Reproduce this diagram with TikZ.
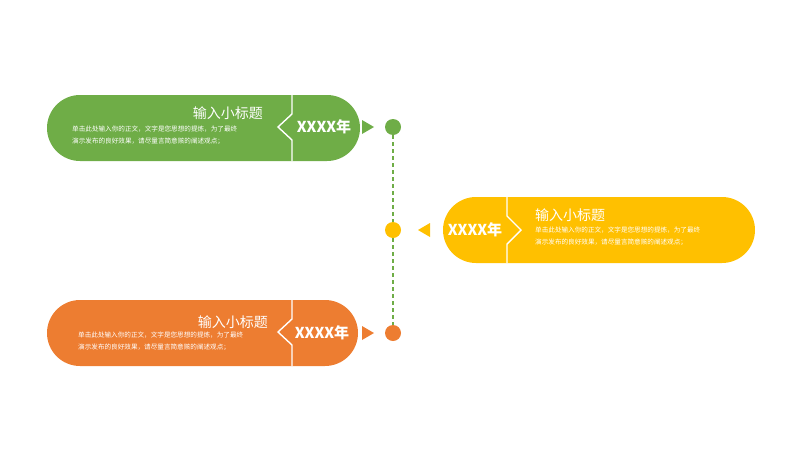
\documentclass[tikz,border=0pt]{standalone}
\usepackage{fontspec}
\newfontfamily\cjk{Noto Sans CJK SC}
\definecolor{cg}{HTML}{6FAD47}
\definecolor{cy}{HTML}{FFC000}
\definecolor{co}{HTML}{ED7D31}
\tikzset{
 pill/.style={rounded corners=33pt},
 divider/.style={draw=white,line width=1.4pt},
 ttl/.style={text=white,font=\cjk\fontsize{14}{16}\selectfont,inner sep=0pt},
 bdy/.style={text=white,font=\cjk\fontsize{6.6}{12}\selectfont,inner sep=0pt,align=left},
 yr/.style={text=white,font=\cjk\bfseries\fontsize{15}{17}\selectfont,inner sep=0pt},
 dotc/.style={circle,inner sep=0pt,minimum size=16pt},
 tri/.style={inner sep=0pt}
}
\begin{document}
\begin{tikzpicture}[x=1pt,y=-1pt]
\useasboundingbox (0,0) rectangle (800,450);
% timeline
\coordinate (top) at (393,127);
\node[dotc,fill=cg] (d1) at (393,127) {};
\node[dotc,fill=cy] (d2) at (393,230) {};
\node[dotc,fill=co] (d3) at (393,333) {};
\draw[cg,dashed,line width=1.4pt,dash pattern=on 4pt off 3pt] (d1) -- (d2);
\draw[cg,dashed,line width=1.4pt,dash pattern=on 4pt off 3pt] (d2) -- (d3);
% green
\fill[cg,pill] (47,95) rectangle (360,161);
\draw[divider] (292,95)--(292,114)--(278,127)--(292,140)--(292,161);
\node[ttl,anchor=east] (t1) at (263,113) {输入小标题};
\node[bdy,anchor=north west] (b1) at (72,126) {单击此处输入你的正文，文字是您思想的提炼，为了最终\\演示发布的良好效果，请尽量言简意赅的阐述观点；};
\node[yr] (y1) at (324,127) {XXXX年};
\fill[cg] (362,120)--(374,127)--(362,134)--cycle;
% yellow
\fill[cy,pill] (443,197) rectangle (755,263);
\draw[divider] (507,197)--(507,216)--(521,230)--(507,244)--(507,263);
\node[ttl,anchor=west] (t2) at (535,215) {输入小标题};
\node[bdy,anchor=north west] (b2) at (535,227) {单击此处输入你的正文，文字是您思想的提炼，为了最终\\演示发布的良好效果，请尽量言简意赅的阐述观点；};
\node[yr] (y2) at (475,230) {XXXX年};
\fill[cy] (430,223)--(418,230)--(430,237)--cycle;
% orange
\fill[co,pill] (47,300) rectangle (358,366);
\draw[divider] (292,300)--(292,319)--(278,332)--(292,345)--(292,366);
\node[ttl,anchor=east] (t3) at (268,322) {输入小标题};
\node[bdy,anchor=north west] (b3) at (78,332) {单击此处输入你的正文，文字是您思想的提炼，为了最终\\演示发布的良好效果，请尽量言简意赅的阐述观点；};
\node[yr] (y3) at (322,333) {XXXX年};
\fill[co] (362,326)--(374,333)--(362,340)--cycle;
\end{tikzpicture}
\end{document}
